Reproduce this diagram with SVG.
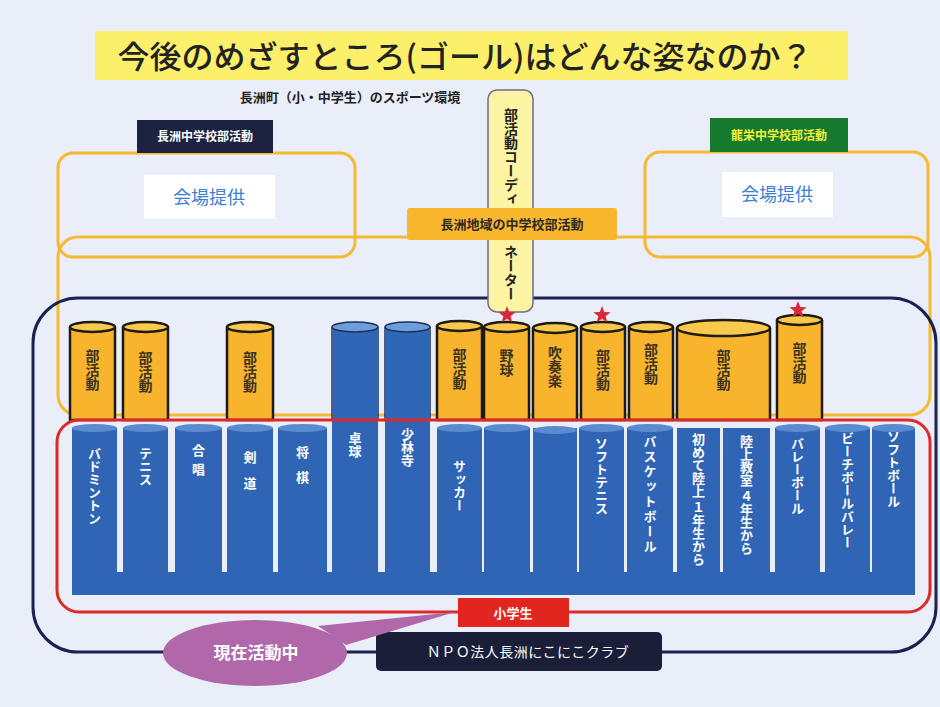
<svg xmlns="http://www.w3.org/2000/svg" xmlns:xlink="http://www.w3.org/1999/xlink" width="940" height="707" viewBox="0 0 940 707">
<style>
.jp{font-family:"Noto Sans CJK JP","Noto Sans CJK SC",sans-serif;}
.ylw{fill:none;stroke:#f5b932;stroke-width:3;}
.ycyl{fill:#f7b42c;stroke:#1e1a14;stroke-width:2.5;}
.ytop{fill:#f9c94e;stroke:#1e1a14;stroke-width:2.5;}
.bcyl{fill:#2f66b6;stroke:#1d2f5c;stroke-width:1.5;}
.btop{fill:#6c9ddc;stroke:#1d2f5c;stroke-width:1.5;}
.col{fill:#2f65b4;}
.ctop{fill:#5a8bd0;}
.vt{writing-mode:vertical-rl;font-family:"Noto Sans CJK JP",sans-serif;font-weight:bold;}
.vd{fill:#3a3222;font-size:14px;}
.vw{fill:#ffffff;font-size:13px;}
.star{fill:#d8283a;}
</style>
<defs>
<polygon id="star" points="0,-9 2.23,-3.07 8.56,-2.78 3.61,1.17 5.29,7.28 0,3.8 -5.29,7.28 -3.61,1.17 -8.56,-2.78 -2.23,-3.07"/>
</defs>
<rect x="0" y="0" width="940" height="707" fill="#e9eef8"/>

<g id="title">
<rect x="95" y="31" width="753" height="49" fill="#fcf06a"/>
<text class="jp" x="465" y="68" font-size="31" font-weight="500" text-anchor="middle" fill="#222" textLength="695" lengthAdjust="spacingAndGlyphs">今後のめざすところ(ゴール)はどんな姿なのか？</text>
</g>
<g id="subtitle">
<text class="jp" x="350" y="102" font-size="13" font-weight="bold" text-anchor="middle" fill="#222">長洲町（小・中学生）のスポーツ環境</text>
</g>

<g id="frames">
<rect class="ylw" x="58" y="153" width="297" height="104" rx="15"/>
<rect class="ylw" x="645" y="152" width="283" height="105" rx="15"/>
<rect class="ylw" x="58" y="237" width="872" height="178" rx="20"/>
<rect x="33" y="298" width="903" height="354" rx="45" fill="none" stroke="#1b2150" stroke-width="3"/>
</g>

<g id="left-school">
<rect x="137" y="120" width="136" height="33" fill="#1b2340"/>
<text class="jp" x="205" y="141" font-size="12" font-weight="bold" text-anchor="middle" fill="#fff">長洲中学校部活動</text>
<rect x="144" y="175" width="131" height="44" fill="#ffffff"/>
<text class="jp" x="209" y="204" font-size="18" text-anchor="middle" fill="#3b80d0">会場提供</text>
</g>

<g id="right-school">
<rect x="710" y="118" width="138" height="34" fill="#157a2e"/>
<text class="jp" x="779" y="140" font-size="12" font-weight="bold" text-anchor="middle" fill="#f2ee3a">龍栄中学校部活動</text>
<rect x="722" y="172" width="111" height="45" fill="#ffffff"/>
<text class="jp" x="777" y="201" font-size="18" text-anchor="middle" fill="#3b80d0">会場提供</text>
</g>

<g id="top-cylinders">
<path class="ycyl" d="M70,327 V420 H115 V327"/><ellipse class="ytop" cx="92.5" cy="327" rx="22.5" ry="5"/>
<text class="vt vd" x="92.5" y="349">部活動</text>
<path class="ycyl" d="M123,327 V420 H168 V327"/><ellipse class="ytop" cx="145.5" cy="327" rx="22.5" ry="5"/>
<text class="vt vd" x="145.5" y="351">部活動</text>
<path class="ycyl" d="M227,327 V420 H273 V327"/><ellipse class="ytop" cx="250" cy="327" rx="23" ry="5"/>
<text class="vt vd" x="250" y="351">部活動</text>
<path class="ycyl" d="M437,326 V420 H482 V326"/><ellipse class="ytop" cx="459.5" cy="326" rx="22.5" ry="5"/>
<text class="vt vd" x="459.5" y="348">部活動</text>
<path class="ycyl" d="M484,327 V420 H529 V327"/><ellipse class="ytop" cx="506.5" cy="327" rx="22.5" ry="5"/>
<text class="vt vd" x="506.5" y="349">野球</text>
<path class="ycyl" d="M533,328 V420 H577 V328"/><ellipse class="ytop" cx="555" cy="328" rx="22" ry="5"/>
<text class="vt vd" x="555" y="346">吹奏楽</text>
<path class="ycyl" d="M581,327 V420 H625 V327"/><ellipse class="ytop" cx="603" cy="327" rx="22" ry="5"/>
<text class="vt vd" x="603" y="349">部活動</text>
<path class="ycyl" d="M629,327 V420 H673 V327"/><ellipse class="ytop" cx="651" cy="327" rx="22" ry="5"/>
<text class="vt vd" x="651" y="343">部活動</text>
<path class="ycyl" d="M677,328 V420 H770 V328"/><ellipse class="ytop" cx="723.5" cy="328" rx="46.5" ry="8"/>
<text class="vt vd" x="723.5" y="349">部活動</text>
<path class="ycyl" d="M777,320 V420 H822 V320"/><ellipse class="ytop" cx="799.5" cy="320" rx="22.5" ry="5"/>
<text class="vt vd" x="799.5" y="342">部活動</text>
</g>

<g id="bottom-columns">
<rect class="col" x="72" y="572" width="843" height="23"/>
<rect class="col" x="72" y="428" width="45" height="146"/><ellipse class="ctop" cx="94.5" cy="428" rx="22.5" ry="4"/>
<rect class="col" x="123" y="428" width="45" height="146"/><ellipse class="ctop" cx="145.5" cy="428" rx="22.5" ry="4"/>
<rect class="col" x="175" y="428" width="47" height="146"/><ellipse class="ctop" cx="198.5" cy="428" rx="23.5" ry="4"/>
<rect class="col" x="227" y="428" width="46" height="146"/><ellipse class="ctop" cx="250" cy="428" rx="23" ry="4"/>
<rect class="col" x="278" y="428" width="49" height="146"/><ellipse class="ctop" cx="302.5" cy="428" rx="24.5" ry="4"/>
<rect class="col" x="437" y="428" width="45" height="146"/><ellipse class="ctop" cx="459.5" cy="428" rx="22.5" ry="4"/>
<rect class="col" x="484" y="428" width="46" height="146"/><ellipse class="ctop" cx="507" cy="428" rx="23" ry="4"/>
<rect class="col" x="533" y="428" width="44" height="146"/><ellipse class="ctop" cx="555" cy="430" rx="22" ry="4"/>
<rect class="col" x="579" y="428" width="45" height="146"/><ellipse class="ctop" cx="601.5" cy="428" rx="22.5" ry="4"/>
<rect class="col" x="627" y="428" width="46" height="146"/><ellipse class="ctop" cx="650" cy="428" rx="23" ry="4"/>
<rect class="col" x="677" y="428" width="43" height="146"/>
<rect class="col" x="723" y="428" width="47" height="146"/>
<rect class="col" x="775" y="428" width="45" height="146"/><ellipse class="ctop" cx="797.5" cy="428" rx="22.5" ry="4"/>
<rect class="col" x="825" y="428" width="45" height="146"/><ellipse class="ctop" cx="847.5" cy="428" rx="22.5" ry="4"/>
<rect class="col" x="872" y="428" width="43" height="146"/><ellipse class="ctop" cx="893.5" cy="428" rx="21.5" ry="4"/>
<rect class="col" x="332" y="420" width="46" height="154"/>
<rect class="col" x="385" y="420" width="45" height="154"/>
<path class="bcyl" d="M332,327 V421 M378,421 V327"/><rect x="332.8" y="327" width="44.4" height="94" fill="#2f66b6"/><ellipse class="btop" cx="355" cy="327" rx="23" ry="5"/>
<path class="bcyl" d="M385,327 V421 M430,421 V327"/><rect x="385.8" y="327" width="43.4" height="94" fill="#2f66b6"/><ellipse class="btop" cx="407.5" cy="327" rx="22.5" ry="5"/>
<text class="vt vw" x="94.5" y="447">バドミントン</text>
<text class="vt vw" x="145.5" y="447">テニス</text>
<text class="vt vw" x="198.5" y="444" letter-spacing="6">合唱</text>
<text class="vt vw" x="250" y="451" letter-spacing="13">剣道</text>
<text class="vt vw" x="302.5" y="446" letter-spacing="12">将棋</text>
<text class="vt vw" x="355" y="432">卓球</text>
<text class="vt vw" x="407.5" y="428">少林寺</text>
<text class="vt vw" x="459.5" y="460">サッカー</text>
<text class="vt vw" x="601.5" y="437">ソフトテニス</text>
<text class="vt vw" x="650" y="435" letter-spacing="2">バスケットボール</text>
<text class="vt vw" x="698.5" y="433" font-size="12.5">初めて陸上 １年生から</text>
<text class="vt vw" x="746.5" y="435" font-size="12.5">陸上教室 ４年生から</text>
<text class="vt vw" x="797.5" y="437">バレーボール</text>
<text class="vt vw" x="847.5" y="432">ビーチボールバレー</text>
<text class="vt vw" x="893.5" y="430">ソフトボール</text>
</g>

<g id="elementary-frame">
<rect x="57" y="420" width="873" height="192" rx="22" fill="none" stroke="#e02828" stroke-width="3"/>
</g>

<g id="coordinator">
<rect x="488" y="90" width="45" height="222" rx="9" fill="#fcf4a2" stroke="#6e6e88" stroke-width="1.5"/>
<text class="vt jp" x="511" y="108" font-size="14" fill="#222" style="writing-mode:vertical-rl">部活動コーディ</text>
<text class="vt jp" x="511" y="245" font-size="14" fill="#222" font-weight="normal" style="writing-mode:vertical-rl">ネーター</text>
</g>

<g id="region-label">
<rect x="407" y="208" width="210" height="32" rx="3" fill="#f8b72c"/>
<text class="jp" x="512" y="229" font-size="13" font-weight="bold" text-anchor="middle" fill="#2a2a2a">長洲地域の中学校部活動</text>
</g>

<g id="stars">
<use xlink:href="#star" class="star" transform="translate(507,315)"/>
<use xlink:href="#star" class="star" transform="translate(602,315)"/>
<use xlink:href="#star" class="star" transform="translate(798,310)"/>
</g>

<g id="elementary-label">
<rect x="458" y="598" width="111" height="29" fill="#e0261f"/>
<text class="jp" x="513" y="618" font-size="13" font-weight="bold" text-anchor="middle" fill="#fff">小学生</text>
</g>

<g id="npo">
<rect x="376" y="632" width="286" height="39" rx="5" fill="#1b1e38"/>
<text class="jp" x="528" y="657" font-size="14" text-anchor="middle" fill="#fff" letter-spacing="0.5">ＮＰＯ法人長洲にこにこクラブ</text>
</g>

<g id="callout">
<path d="M455,612 L318,626 L346,645 Z" fill="#b068ab"/>
<ellipse cx="255" cy="653" rx="92" ry="33" fill="#b068ab"/>
<text class="jp" x="256" y="659" font-size="17" font-weight="bold" text-anchor="middle" fill="#fff">現在活動中</text>
</g>
</svg>
